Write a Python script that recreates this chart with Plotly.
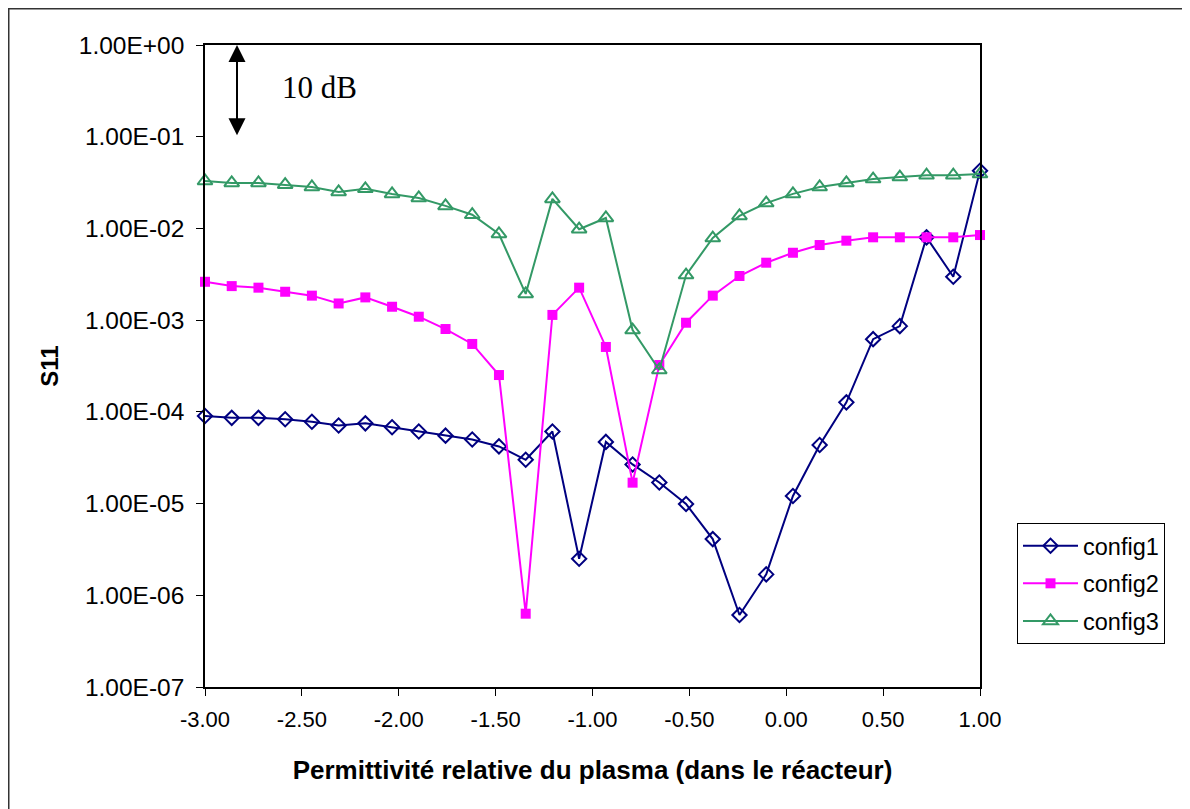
import numpy as np
import plotly.graph_objects as go

# Data
x_vals = [round(-3 + i * 4 / 29, 4) for i in range(30)]
config1 = [9.0e-5, 8.6e-5, 8.6e-5, 8.3e-5, 7.8e-5, 7.1e-5, 7.5e-5, 6.8e-5, 6.1e-5, 5.5e-5,
           5.0e-5, 4.2e-5, 3.0e-5, 6.1e-5, 2.5e-6, 4.7e-5, 2.67e-5, 1.7e-5, 9.9e-6, 4.1e-6,
           6.1e-7, 1.69e-6, 1.21e-5, 4.35e-5, 1.27e-4, 6.2e-4, 8.6e-4, 8.0e-3, 2.97e-3, 4.26e-2]
config2 = [2.62e-3, 2.35e-3, 2.26e-3, 2.04e-3, 1.85e-3, 1.52e-3, 1.77e-3, 1.40e-3, 1.09e-3, 8.0e-4,
           5.5e-4, 2.52e-4, 6.3e-7, 1.14e-3, 2.26e-3, 5.1e-4, 1.69e-5, 3.24e-4, 9.37e-4, 1.85e-3,
           3.03e-3, 4.23e-3, 5.43e-3, 6.59e-3, 7.35e-3, 8.0e-3, 8.0e-3, 8.0e-3, 8.0e-3, 8.47e-3]
config3 = [3.29e-2, 3.13e-2, 3.13e-2, 3.0e-2, 2.83e-2, 2.5e-2, 2.7e-2, 2.38e-2, 2.15e-2, 1.76e-2,
           1.41e-2, 8.7e-3, 1.93e-3, 2.1e-2, 9.8e-3, 1.3e-2, 7.8e-4, 2.86e-4, 3.1e-3, 7.86e-3,
           1.37e-2, 1.89e-2, 2.38e-2, 2.83e-2, 3.13e-2, 3.45e-2, 3.63e-2, 3.8e-2, 3.8e-2, 3.92e-2]

y_tickvals = [1e0, 1e-1, 1e-2, 1e-3, 1e-4, 1e-5, 1e-6, 1e-7]
y_ticktext = ["1.00E+00", "1.00E-01", "1.00E-02", "1.00E-03", "1.00E-04", "1.00E-05", "1.00E-06", "1.00E-07"]
x_tickvals = [-3.0, -2.5, -2.0, -1.5, -1.0, -0.5, 0.0, 0.5, 1.0]
x_ticktext = ["-3.00", "-2.50", "-2.00", "-1.50", "-1.00", "-0.50", "0.00", "0.50", "1.00"]

FONT = "Liberation Sans, Arial, sans-serif"

fig = go.Figure()
fig.add_trace(go.Scatter(x=x_vals, y=config1, name="config1", mode="lines+markers", legendgroup="a",
                         line=dict(color="#000080", width=2),
                         marker=dict(symbol="diamond-open", size=11, color="#000080", line=dict(width=2)),
                         cliponaxis=False))
fig.add_trace(go.Scatter(x=x_vals, y=config2, name="config2", mode="lines+markers", legendgroup="b",
                         line=dict(color="#FF00FF", width=2),
                         marker=dict(symbol="square", size=10, color="#FF00FF"),
                         cliponaxis=False))
fig.add_trace(go.Scatter(x=x_vals, y=config3, name="config3", mode="lines+markers", legendgroup="c",
                         line=dict(color="#339966", width=2),
                         marker=dict(symbol="triangle-up-open", size=13, color="#339966", line=dict(width=2)),
                         cliponaxis=False))

OFF = 8  # page body margin
W, H = 1182, 801
L, T = 205 - OFF, 45 - OFF
pw, ph = 775, 642
R, B = W - L - pw, H - T - ph

def px(xp):
    return (xp - OFF - L) / pw

def py(yp):
    return (T + ph - (yp - OFF)) / ph

fig.update_layout(
    width=W, height=H,
    margin=dict(l=L, r=R, t=T, b=B),
    paper_bgcolor="white", plot_bgcolor="white",
    font=dict(family=FONT, color="black", size=23),
    showlegend=True,
    legend=dict(x=px(1017), y=py(523), xanchor="left", yanchor="top",
                bordercolor="black", borderwidth=1, bgcolor="white",
                font=dict(family=FONT, size=23.5, color="black"),
                tracegroupgap=4, itemwidth=55),
    xaxis=dict(range=[-3, 1], tickvals=x_tickvals, ticktext=x_ticktext,
               showgrid=False, zeroline=False, showline=True, linecolor="black", linewidth=1.5,
               mirror=True, ticks="outside", ticklen=7, tickcolor="black",
               ticklabelstandoff=5,
               tickfont=dict(family=FONT, size=22),
               title=dict(text="<b>Permittivité relative du plasma (dans le réacteur)</b>",
                          font=dict(family=FONT, size=26), standoff=30)),
    yaxis=dict(type="log", range=[-7, 0], tickvals=y_tickvals, ticktext=y_ticktext,
               showgrid=False, zeroline=False, showline=True, linecolor="black", linewidth=1.5,
               mirror=True, ticks="outside", ticklen=7, tickcolor="black",
               ticklabelstandoff=7,
               tickfont=dict(family=FONT, size=24.5),
               title=dict(text="<b>S11</b>", font=dict(family=FONT, size=24), standoff=13)),
)

# outer chart border
fig.add_shape(type="rect", xref="paper", yref="paper",
              x0=px(OFF), x1=px(1250), y0=py(900), y1=py(OFF),
              line=dict(color="#333333", width=3), fillcolor="rgba(0,0,0,0)", layer="below")

# 10 dB arrow (one decade)
arrow_x = -3 + (237 - 205) / pw * 4
fig.add_annotation(x=arrow_x, y=0, ax=arrow_x, ay=-1, xref="x", yref="y", axref="x", ayref="y",
                   text="", showarrow=True, arrowhead=2, arrowside="end+start",
                   arrowsize=1.7, arrowwidth=2, arrowcolor="black", standoff=0, startstandoff=0)
fig.add_annotation(x=px(319), y=py(87), xref="paper", yref="paper", text="10 dB",
                   xanchor="center", yanchor="middle",
                   showarrow=False, font=dict(family="Liberation Serif, Times New Roman, serif", size=31, color="black"))

fig.write_html("out.html")
